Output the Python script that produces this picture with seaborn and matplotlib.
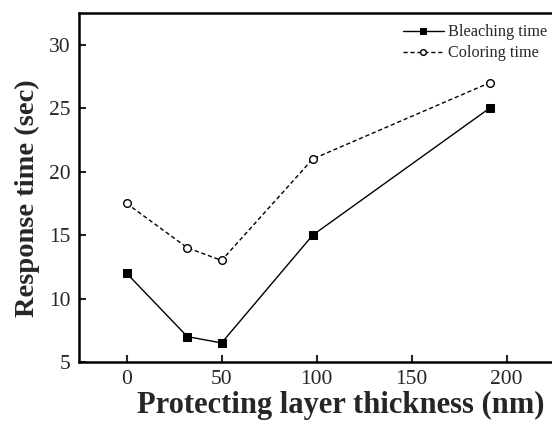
import matplotlib
matplotlib.use("Agg")
import matplotlib.pyplot as plt
import seaborn as sns

# layer thickness (nm) and response times (sec)
thickness = [0, 32, 50, 98, 191]
bleaching = [12.0, 7.0, 6.5, 15.0, 25.0]
coloring = [17.5, 14.0, 13.0, 21.0, 27.0]

x_ticks = [0, 50, 100, 150, 200]
y_ticks = [5, 10, 15, 20, 25, 30]

sns.set_style("ticks")
plt.rcParams['font.family'] = ['Liberation Serif', 'DejaVu Serif']

fig = plt.figure(figsize=(5.52, 4.22), dpi=100)
# the original figure is cropped on the right, so the axes run past the edge
ax = fig.add_axes([0.1431, 0.1422, 0.947, 0.827])

sns.lineplot(x=thickness, y=bleaching, ax=ax, color='black', linewidth=1.0,
             marker='s', markersize=6, markerfacecolor='black',
             markeredgecolor='black', label='Bleaching time')
sns.lineplot(x=thickness, y=coloring, ax=ax, color='black', linewidth=1.0,
             linestyle=(0, (3, 2)), marker='o', markersize=5.5,
             markerfacecolor='white', markeredgecolor='black',
             markeredgewidth=1.0, label='Coloring time')

ax.set_xlim(-25, 250)
ax.set_ylim(5, 32.5)
ax.set_xticks(x_ticks)
ax.set_yticks(y_ticks)
ax.tick_params(direction='in', length=5, width=1.5, labelsize=15.5,
               top=False, right=False, pad=6)
for sp in ax.spines.values():
    sp.set_linewidth(1.8)
    sp.set_color('black')

ax.set_xlabel('Protecting layer thickness (nm)', fontsize=22, fontweight='bold',
              labelpad=1)
ax.set_ylabel('Response time (sec)', fontsize=20.5, fontweight='bold')
ax.yaxis.set_label_coords(-0.075, 0.468)

ax.legend(loc='upper left', bbox_to_anchor=(0.598, 1.0), frameon=False,
          fontsize=11.7, handlelength=2.5, handletextpad=0.3, labelspacing=0.3,
          borderaxespad=0.3, markerscale=0.75)

fig.savefig('out.png', dpi=100)
